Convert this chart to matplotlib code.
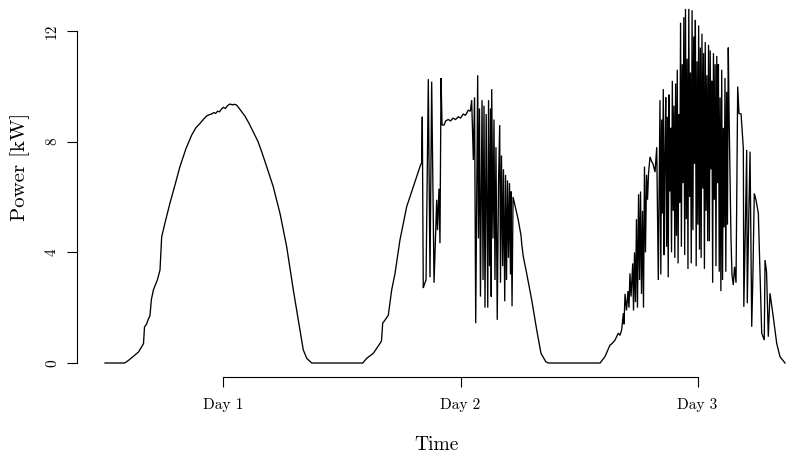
import matplotlib
matplotlib.use('Agg')
import matplotlib.pyplot as plt
import numpy as np

# ---------------- data (hours since start, power in kW) ----------------
# Day 1 (clear day)
t_day1 = [0, 2.0, 2.4, 2.9, 3.4, 3.9, 4.0, 4.2, 4.4, 4.55, 4.7, 4.9, 5.3, 5.57, 5.74, 6.1, 6.58, 7.1,
          7.59, 8.2, 8.78, 9.2, 9.62, 10.0, 10.3, 10.6, 10.8, 11.0, 11.2, 11.4, 11.6, 11.8, 11.98, 12.2,
          12.4, 12.66, 12.9, 13.1, 13.34, 13.7, 14.18, 14.6, 15.02, 15.5, 15.9, 16.37, 17.04, 17.72, 18.4,
          19.07, 19.75, 20.08, 20.43, 20.93]
p_day1 = [0, 0, 0.1, 0.25, 0.4, 0.7, 1.3, 1.4, 1.6, 1.7, 2.3, 2.64, 3.0, 3.36, 4.56, 5.1, 5.78, 6.45,
          7.1, 7.75, 8.24, 8.5, 8.66, 8.82, 8.93, 8.98, 9.0, 9.05, 9.02, 9.1, 9.08, 9.18, 9.24, 9.2,
          9.3, 9.36, 9.33, 9.35, 9.32, 9.15, 8.92, 8.65, 8.35, 8.0, 7.6, 7.1, 6.37, 5.41, 4.2,
          2.64, 1.19, 0.47, 0.17, 0]

# Day 2 (morning clear, then clouds)
t_day2a = [26.1, 26.5, 27.17, 27.85, 28.0, 28.12, 28.35, 28.69, 29.03, 29.37, 29.87, 30.55, 31.22,
           31.9, 32.07, 32.13, 32.23, 32.35, 32.51, 32.74, 32.91, 33.08, 33.32, 33.59, 33.67, 33.82,
           33.92, 34.03, 34.13, 34.33, 34.5, 34.76, 35.0, 35.24, 35.5, 35.78, 36.0, 36.28, 36.5,
           36.79, 37.0, 37.13]
p_day2a = [0, 0.17, 0.35, 0.71, 0.8, 1.44, 1.55, 1.73, 2.64, 3.24, 4.45, 5.65, 6.37,
           7.1, 7.25, 8.9, 2.71, 2.85, 3.0, 10.26, 3.1, 10.17, 2.9, 5.9, 4.8, 6.3,
           4.33, 10.3, 8.6, 8.6, 8.75, 8.8, 8.75, 8.85, 8.8, 8.9, 8.85, 9.0, 8.95,
           9.14, 9.1, 9.5]
t_day2b = [37.3, 37.42, 37.54, 37.62, 37.74, 37.82, 37.92, 38.02, 38.18, 38.28, 38.38, 38.48, 38.6,
           38.76, 38.84, 38.94, 39.04, 39.11, 39.16, 39.29, 39.39, 39.49, 39.59, 39.72, 39.85, 39.97,
           40.05, 40.15, 40.27, 40.35, 40.48, 40.56, 40.66, 40.76, 40.86, 40.96, 41.06, 41.11, 41.22,
           41.32, 41.85, 42.13, 42.2, 42.36, 42.7, 43.21, 43.72, 44.15, 44.63, 44.89]
p_day2b = [7.34, 9.6, 1.44, 5.0, 10.4, 4.5, 9.2, 2.4, 9.5, 3.0, 9.3, 2.0, 9.0,
           2.0, 9.5, 3.5, 9.2, 2.4, 9.9, 4.5, 8.8, 3.0, 7.8, 1.56, 6.5, 8.6,
           2.9, 7.5, 3.5, 7.0, 2.23, 6.8, 3.0, 6.6, 3.8, 6.5, 3.2, 6.2, 2.05,
           6.0, 5.17, 4.6, 4.3, 3.84, 3.24, 2.28, 1.19, 0.35, 0.05, 0]

# Day 3 (broken clouds all day)
t_day3a = [50.13, 50.63, 51.14, 51.34, 51.65, 51.98, 52.15, 52.32, 52.49, 52.56, 52.66, 52.81, 52.96,
           53.06, 53.16, 53.27, 53.44, 53.52, 53.62, 53.72, 53.82, 53.92, 54.03, 54.13, 54.23, 54.33,
           54.43, 54.53, 54.63, 54.73, 54.84, 54.94, 55.04, 55.19, 55.34, 55.49, 55.7, 55.87, 56.03]
p_day3a = [0, 0.23, 0.65, 0.7, 0.83, 1.08, 1.0, 1.2, 1.8, 1.4, 2.5, 1.9, 2.6,
           2.0, 3.24, 2.4, 3.6, 1.9, 4.0, 2.2, 5.2, 2.0, 6.1, 3.0, 6.2, 2.5,
           5.5, 2.0, 7.1, 4.0, 6.8, 5.9, 6.85, 7.45, 7.3, 7.2, 6.9, 7.8, 3.0]
# 5-minute samples starting at 56.2 h
day3b_start = 56.2
day3b_step = 5 / 60
p_day3b = [9.5, 3.2, 8.8, 5.4, 9.9, 3.9, 7.5, 9.6, 4.2, 8.9,
           3.1, 9.7, 6.2, 8.5, 4.0, 10.2, 5.5, 9.3, 3.8, 10.1,
           4.6, 10.6, 3.6, 9.0, 5.8, 12.3, 4.2, 10.8, 6.5, 12.5,
           3.9, 12.8, 5.2, 11.0, 3.4, 12.8, 6.0, 10.5, 3.6, 12.75,
           4.8, 11.8, 7.2, 12.4, 3.5, 10.9, 5.0, 12.2, 4.1, 11.4,
           3.8, 11.9, 6.3, 11.2, 3.4, 11.6, 5.5, 10.4, 4.4, 11.5,
           4.4, 11.3, 7.0, 10.2, 2.9, 11.2, 5.9, 10.8, 3.5, 11.1,
           6.5, 10.8, 3.3, 9.6, 2.6, 10.6, 3.0, 8.5, 4.9, 10.3,
           3.3, 9.8, 5.0, 11.4, 8.9]
t_day3c = [63.39, 63.49, 63.62, 63.75, 63.9, 64.07, 64.2, 64.41, 64.64, 64.69, 64.85, 64.98, 65.04,
           65.15, 65.32, 65.49, 65.6, 65.75, 65.92, 66.16, 66.5, 66.76, 66.84, 66.99, 67.17, 67.34,
           67.67, 68.02, 68.35, 68.86]
p_day3c = [4.5, 3.2, 2.82, 3.48, 2.9, 9.99, 9.02, 9.0, 7.76, 2.03, 5.0, 7.7, 2.16,
           4.5, 7.64, 1.31, 3.0, 6.13, 5.9, 5.41, 1.08, 0.83, 3.72, 3.3, 0.95, 2.52,
           1.67, 0.71, 0.23, 0]

day_ticks = [12, 36, 60]
day_labels = ['Day 1', 'Day 2', 'Day 3']
power_ticks = [0, 4, 8, 12]
power_labels = ['0', '4', '8', '12']

# ---------------- assemble ----------------
t_day3b = list(day3b_start + day3b_step * np.arange(len(p_day3b)))
t = np.array(t_day1 + t_day2a + t_day2b + t_day3a + t_day3b + t_day3c)
p = np.array(p_day1 + p_day2a + p_day2b + p_day3a + p_day3b + p_day3c)

plt.rcParams['font.family'] = ['cmr10', 'DejaVu Serif']
plt.rcParams['axes.formatter.use_mathtext'] = True

W, H = 809, 458
fig = plt.figure(figsize=(W / 100, H / 100), dpi=100)
ax = fig.add_axes([77 / W, (H - 377) / H, (809 - 77) / W, 377 / H])
ax.plot(t, p, color='black', lw=0.95, solid_joinstyle='miter')

ax.set_xlim(-2.835, 71.29)
ax.set_ylim(-0.506, 13.12)

for s in ['top', 'right']:
    ax.spines[s].set_visible(False)
ax.spines['left'].set_bounds(0, 12)
ax.spines['bottom'].set_bounds(12, 60)
for s in ['left', 'bottom']:
    ax.spines[s].set_linewidth(0.8)

ax.set_yticks(power_ticks)
ax.set_yticklabels(power_labels, rotation=90, va='center', fontsize=11)
ax.set_xticks(day_ticks)
ax.set_xticklabels(day_labels, fontsize=11)
ax.tick_params(axis='both', length=7, width=0.8, direction='out')
ax.tick_params(axis='y', pad=6)
ax.tick_params(axis='x', pad=8)

fig.text(436 / W, 1 - 445 / H, 'Time', ha='center', va='center', fontsize=14)
fig.text(20 / W, 1 - 167 / H, 'Power [kW]', ha='center', va='center', rotation=90, fontsize=15)

fig.savefig('out.png', dpi=100)
